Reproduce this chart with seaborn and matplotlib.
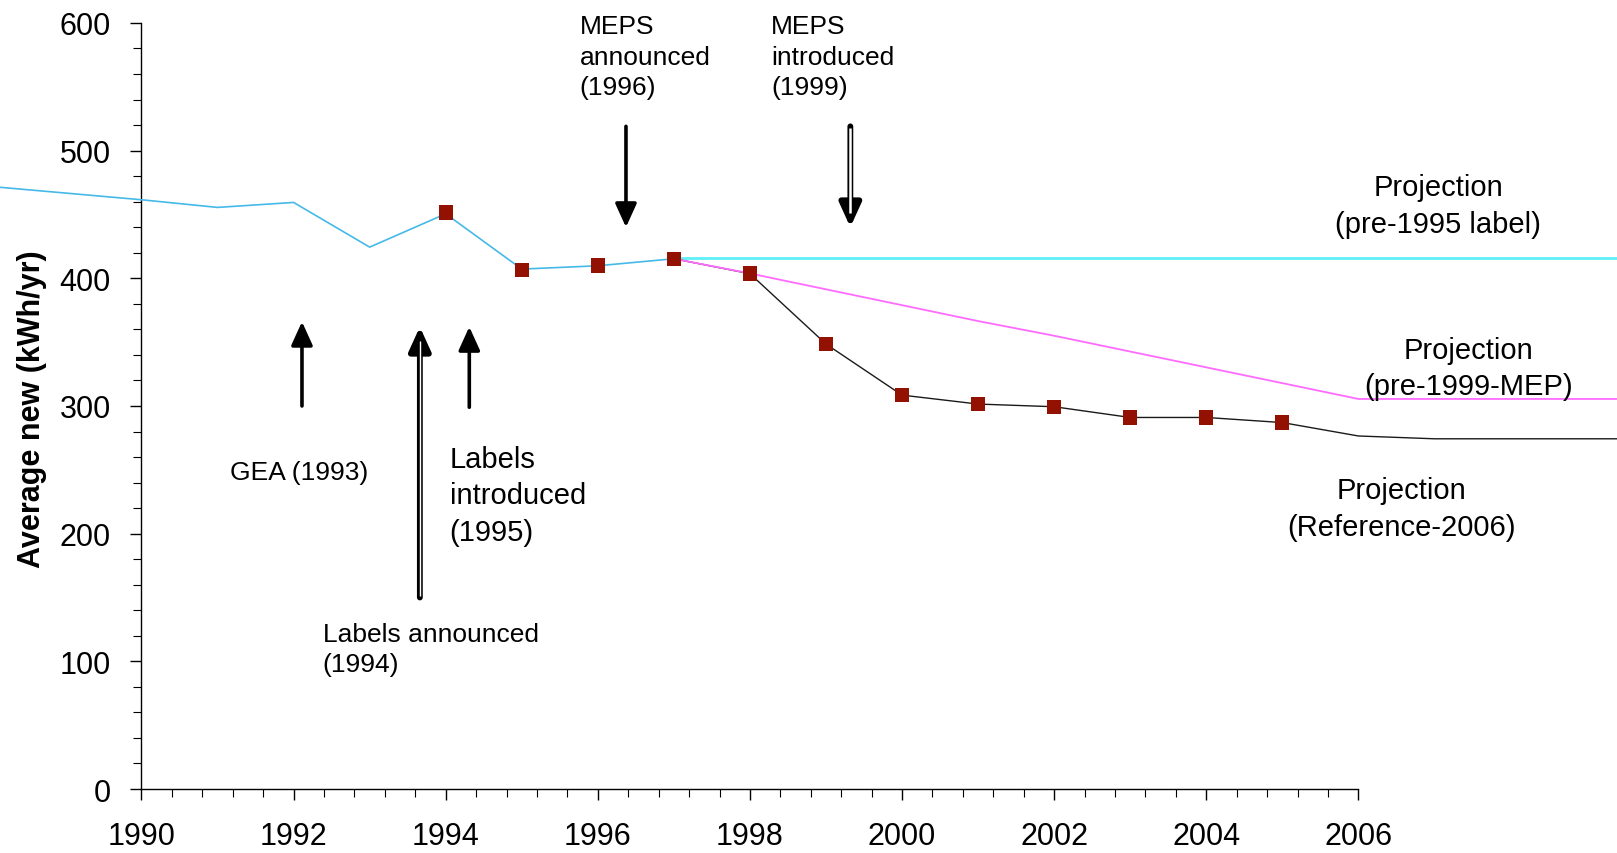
import matplotlib
matplotlib.use("Agg")
import matplotlib.pyplot as plt
import seaborn as sns
import pandas as pd
import numpy as np
from matplotlib.ticker import MultipleLocator

# ---- data ----
hist_years = [1988, 1990, 1991, 1992, 1993, 1994, 1995, 1996, 1997]
hist_vals = [472, 461.5, 455.5, 459.4, 424.4, 450.5, 407.2, 409.8, 415.3]

pre1995_years = [1997, 2010]
pre1995_vals = [415.5, 415.5]

pre1999_years = [1997, 1998, 2001, 2002, 2006, 2010]
pre1999_vals = [415.3, 403.8, 366.5, 355.0, 305.5, 305.5]

ref_years = [1997, 1998, 1999, 2000, 2001, 2002, 2003, 2004, 2005, 2006, 2007, 2010]
ref_vals = [415.3, 403.6, 348.5, 308.5, 301.5, 299.4, 291.0, 291.0, 287.0, 276.5, 274.3, 274.3]

marker_years = [1994, 1995, 1996, 1997, 1998, 1999, 2000, 2001, 2002, 2003, 2004, 2005]
marker_vals = [451.6, 406.7, 410.0, 415.0, 403.8, 348.5, 308.5, 301.5, 299.4, 291.0, 291.0, 287.0]

x_ticks = [1990, 1992, 1994, 1996, 1998, 2000, 2002, 2004, 2006]
y_ticks = [0, 100, 200, 300, 400, 500, 600]

sns.set_style("white")
plt.rcParams["font.family"] = ["Liberation Sans", "DejaVu Sans"]
plt.rcParams["text.color"] = "black"
plt.rcParams["axes.labelcolor"] = "black"

fig = plt.figure(figsize=(16.17, 8.54), dpi=100)
ax = fig.add_axes([0.0875, 0.0749, 0.9125, 0.8971])

df_hist = pd.DataFrame({"year": hist_years, "val": hist_vals})
df_p95 = pd.DataFrame({"year": pre1995_years, "val": pre1995_vals})
df_p99 = pd.DataFrame({"year": pre1999_years, "val": pre1999_vals})
df_ref = pd.DataFrame({"year": ref_years, "val": ref_vals})
df_mk = pd.DataFrame({"year": marker_years, "val": marker_vals})

sns.lineplot(data=df_p95, x="year", y="val", ax=ax, color="#5FEFF7", lw=2.0, zorder=2)
sns.lineplot(data=df_ref, x="year", y="val", ax=ax, color="#1A1A1A", lw=1.0, zorder=3)
sns.lineplot(data=df_p99, x="year", y="val", ax=ax, color="#FF6BFF", lw=1.3, zorder=3)
sns.lineplot(data=df_hist, x="year", y="val", ax=ax, color="#45B9E8", lw=1.2, zorder=4)
ax.lines[-1].set_clip_on(False)
sns.scatterplot(data=df_mk, x="year", y="val", ax=ax, marker="s", s=105,
                color="#921100", edgecolor="none", zorder=5)

ax.set_xlim(1990, 2009.4)
ax.set_ylim(0, 600)

for s in ["top", "right"]:
    ax.spines[s].set_visible(False)
ax.spines["bottom"].set_bounds(1990, 2006)
for s in ["left", "bottom"]:
    ax.spines[s].set_color("black")
    ax.spines[s].set_linewidth(1.0)

ax.set_xticks(x_ticks)
ax.set_xticklabels([str(t) for t in x_ticks])
ax.set_yticks(y_ticks)
ax.set_yticklabels([str(t) for t in y_ticks])
ax.set_xticks(np.arange(1990, 2006.01, 0.4), minor=True)
ax.yaxis.set_minor_locator(MultipleLocator(20))
ax.tick_params(axis="both", which="major", direction="out", length=8, width=1.0,
               color="black", labelsize=22, labelcolor="black")
ax.tick_params(axis="x", which="major", pad=15)
ax.tick_params(axis="y", which="major", pad=14)
ax.tick_params(axis="both", which="minor", direction="out", length=5.5, width=0.8, color="black")
ax.tick_params(axis="x", which="both", bottom=True)
ax.tick_params(axis="y", which="both", left=True)

ax.set_xlabel("")
ax.set_ylabel("Average new (kWh/yr)", fontsize=22, fontweight="bold", color="black")
ax.yaxis.set_label_coords(-0.064, 0.497)


def solid_arrow(x, y0, y1):
    ax.annotate("", xy=(x, y1), xytext=(x, y0),
                arrowprops=dict(arrowstyle="-|>,head_length=0.55,head_width=0.25",
                                color="black", lw=2.6, mutation_scale=26,
                                shrinkA=0, shrinkB=0))


def hollow_arrow(x, y0, y1, inner):
    ax.annotate("", xy=(x, y1), xytext=(x, y0),
                arrowprops=dict(arrowstyle="-|>,head_length=0.55,head_width=0.25",
                                color="black", lw=4.2, mutation_scale=26,
                                shrinkA=0, shrinkB=0))
    d = 1 if y1 > y0 else -1
    ax.plot([x, x], [y0 + d * 1.0, y1 - d * 11], color="white", lw=inner,
            solid_capstyle="butt", zorder=6)


solid_arrow(1992.11, 300, 366)
hollow_arrow(1993.66, 150, 362, 1.0)
solid_arrow(1994.31, 299, 362)
solid_arrow(1996.37, 519, 440)
hollow_arrow(1999.32, 519, 440, 1.8)

fs_s = 19
fs_l = 21
ax.text(1992.07, 248, "GEA (1993)", fontsize=fs_s, ha="center", va="center")
ax.text(1992.38, 109.5, "Labels announced\n(1994)", fontsize=fs_s, ha="left",
        va="center", linespacing=1.33)
ax.text(1994.05, 230, "Labels\nintroduced\n(1995)", fontsize=fs_l, ha="left",
        va="center", linespacing=1.38)
ax.text(1995.76, 573.5, "MEPS\nannounced\n(1996)", fontsize=fs_s, ha="left",
        va="center", linespacing=1.33)
ax.text(1998.28, 573.5, "MEPS\nintroduced\n(1999)", fontsize=fs_s, ha="left",
        va="center", linespacing=1.33)
ax.text(2007.05, 457, "Projection\n(pre-1995 label)", fontsize=fs_l, ha="center",
        va="center", linespacing=1.38)
ax.text(2007.45, 329.5, "Projection\n(pre-1999-MEP)", fontsize=fs_l, ha="center",
        va="center", linespacing=1.38)
ax.text(2006.57, 219.6, "Projection\n(Reference-2006)", fontsize=fs_l, ha="center",
        va="center", linespacing=1.38)

fig.savefig("out.png", dpi=100)
